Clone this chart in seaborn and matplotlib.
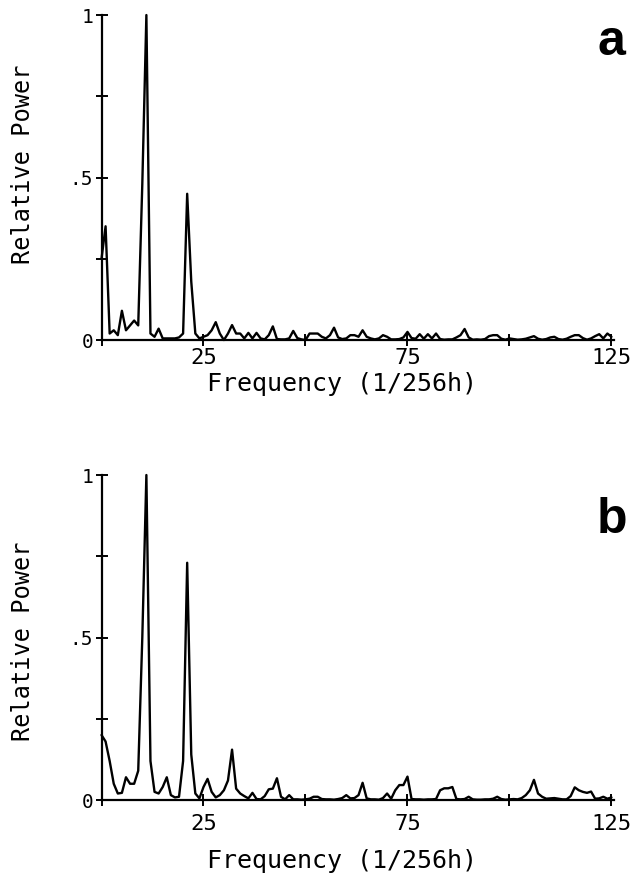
import numpy as np
import pandas as pd
import matplotlib
matplotlib.use("Agg")
import matplotlib.pyplot as plt
import seaborn as sns
from matplotlib.ticker import FixedLocator, FixedFormatter

# --- values (frequency bins 0..125, 1/256h) ---
freq = list(range(126))

power_a = [
    0.25, 0.35, 0.02, 0.03, 0.015, 0.09, 0.03, 0.045, 0.06, 0.045,
    0.48, 1.00, 0.02, 0.01, 0.035, 0.005, 0.005, 0.005, 0.005, 0.008,
    0.02, 0.45, 0.18, 0.02, 0.005, 0.01, 0.015, 0.03, 0.055, 0.02,
    0.0, 0.02, 0.046, 0.02, 0.02, 0.005, 0.022, 0.005, 0.022, 0.005,
    0.002, 0.015, 0.042, 0.003, 0.002, 0.002, 0.005, 0.028, 0.006, 0.002,
    0.0, 0.02, 0.02, 0.02, 0.01, 0.005, 0.015, 0.038, 0.008, 0.003,
    0.005, 0.015, 0.015, 0.01, 0.03, 0.01, 0.005, 0.002, 0.005, 0.015,
    0.01, 0.002, 0.002, 0.003, 0.008, 0.025, 0.006, 0.004, 0.018, 0.004,
    0.018, 0.005, 0.02, 0.003, 0.001, 0.002, 0.002, 0.008, 0.015, 0.034,
    0.008, 0.001, 0.002, 0.001, 0.003, 0.012, 0.015, 0.015, 0.004, 0.001,
    0.005, 0.003, 0.001, 0.002, 0.004, 0.008, 0.012, 0.004, 0.001, 0.003,
    0.008, 0.01, 0.003, 0.001, 0.004, 0.01, 0.015, 0.015, 0.006, 0.001,
    0.005, 0.012, 0.018, 0.005, 0.02, 0.01,
]

power_b = [
    0.20, 0.18, 0.12, 0.05, 0.02, 0.022, 0.07, 0.05, 0.05, 0.09,
    0.50, 1.00, 0.12, 0.025, 0.02, 0.04, 0.07, 0.015, 0.008, 0.01,
    0.12, 0.73, 0.14, 0.02, 0.005, 0.04, 0.065, 0.025, 0.008, 0.015,
    0.03, 0.06, 0.155, 0.035, 0.02, 0.012, 0.005, 0.022, 0.003, 0.002,
    0.012, 0.033, 0.035, 0.067, 0.01, 0.002, 0.015, 0.002, 0.002, 0.001,
    0.002, 0.004, 0.01, 0.01, 0.003, 0.002, 0.002, 0.001, 0.003, 0.006,
    0.015, 0.005, 0.006, 0.015, 0.053, 0.005, 0.002, 0.002, 0.001, 0.006,
    0.02, 0.004, 0.03, 0.046, 0.046, 0.072, 0.003, 0.002, 0.002, 0.001,
    0.002, 0.002, 0.003, 0.03, 0.036, 0.036, 0.04, 0.003, 0.002, 0.003,
    0.01, 0.002, 0.001, 0.001, 0.002, 0.002, 0.004, 0.01, 0.003, 0.001,
    0.002, 0.003, 0.002, 0.006, 0.015, 0.03, 0.062, 0.02, 0.01, 0.004,
    0.005, 0.006, 0.004, 0.002, 0.002, 0.012, 0.039, 0.03, 0.025, 0.022,
    0.026, 0.004, 0.005, 0.01, 0.004, 0.008,
]

panel_labels = ["a", "b"]
x_ticks = [0, 25, 50, 75, 100, 125]
x_tick_labels = ["", "25", "", "75", "", "125"]
y_ticks = [0, 0.25, 0.5, 0.75, 1]
y_tick_labels = ["0", "", ".5", "", "1"]

sns.set_theme(style="ticks")
plt.rcParams['font.family'] = ['DejaVu Sans Mono', 'DejaVu Sans']

fig = plt.figure(figsize=(6.4, 8.8), dpi=100)

# axes boxes in figure fractions (left, bottom, width, height)
boxes = [[0.1586, 0.6136, 0.8, 0.3693],
         [0.1586, 0.0909, 0.8, 0.3693]]
ylabel_y = [0.54, 0.49]
xlabel_y = [-0.098, -0.15]
xtick_pad = [2, 6]
letter_y = [0.952, 0.409]

for i, (box, power) in enumerate(zip(boxes, [power_a, power_b])):
    ax = fig.add_axes(box)
    df = pd.DataFrame({"freq": freq, "power": power})
    sns.lineplot(data=df, x="freq", y="power", ax=ax, color="black",
                 linewidth=1.7, clip_on=False)
    ax.set_xlim(0, 125.5)
    ax.set_ylim(0, 1)
    sns.despine(ax=ax)
    for s in ["left", "bottom"]:
        ax.spines[s].set_linewidth(1.6)
        ax.spines[s].set_color("black")

    ax.xaxis.set_major_locator(FixedLocator(x_ticks))
    ax.xaxis.set_major_formatter(FixedFormatter(x_tick_labels))
    ax.yaxis.set_major_locator(FixedLocator(y_ticks))
    ax.yaxis.set_major_formatter(FixedFormatter(y_tick_labels))
    ax.tick_params(axis="x", direction="inout", length=8, width=1.4,
                   colors="black", labelsize=16, pad=xtick_pad[i])
    ax.tick_params(axis="y", direction="inout", length=8, width=1.4,
                   colors="black", labelsize=14, pad=2)

    ax.set_xlabel("Frequency (1/256h)", fontsize=18, color="black")
    ax.xaxis.set_label_coords(0.47, xlabel_y[i])
    ax.set_ylabel("Relative Power", fontsize=17, color="black")
    ax.yaxis.set_label_coords(-0.13, ylabel_y[i])

    fig.text(0.956, letter_y[i], panel_labels[i], fontsize=36,
             fontweight="bold", family="Liberation Sans",
             ha="center", va="center", color="black")

fig.savefig("out.png", dpi=100, facecolor="white")
